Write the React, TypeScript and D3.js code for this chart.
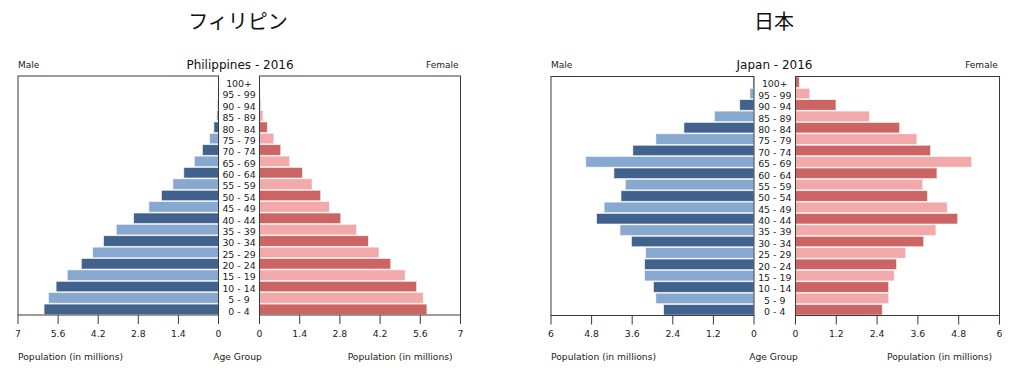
import React from "react";
import * as d3 from "d3";

const ageGroups = ["0 - 4","5 - 9","10 - 14","15 - 19","20 - 24","25 - 29","30 - 34","35 - 39","40 - 44","45 - 49","50 - 54","55 - 59","60 - 64","65 - 69","70 - 74","75 - 79","80 - 84","85 - 89","90 - 94","95 - 99","100+"];

const phMale = [6.09,5.93,5.67,5.28,4.79,4.39,4.01,3.57,2.96,2.43,1.99,1.59,1.21,0.84,0.56,0.31,0.16,0.06,0.03,0.015,0.005];
const phFemale = [5.83,5.70,5.47,5.07,4.57,4.16,3.79,3.38,2.83,2.43,2.13,1.83,1.49,1.05,0.74,0.50,0.27,0.12,0.04,0.02,0.01];
const phTicks = [0,1.4,2.8,4.2,5.6,7];

const jpMale = [2.67,2.90,2.97,3.23,3.23,3.20,3.62,3.96,4.65,4.43,3.93,3.80,4.14,4.97,3.58,2.90,2.07,1.17,0.42,0.12,0.03];
const jpFemale = [2.55,2.74,2.74,2.90,2.97,3.24,3.77,4.13,4.77,4.46,3.88,3.74,4.16,5.18,3.97,3.57,3.06,2.17,1.19,0.42,0.11];
const jpTicks = [0,1.2,2.4,3.6,4.8,6];

const FONT = "'DejaVu Sans', sans-serif";
const CJK = "'Noto Sans CJK JP', sans-serif";

type PyrProps = {
  title: string;
  bigTitle: string;
  male: number[];
  female: number[];
  ticks: number[];
  maxV: number;
  mL: number; mR: number; fL: number; fR: number;
  top: number; bottom: number;
  titleX: number; bigTitleX: number; femaleX: number; ageX: number; popRX: number;
};

function Pyramid(p: PyrProps) {
  const xm = d3.scaleLinear().domain([0, p.maxV]).range([p.mR, p.mL]);
  const xf = d3.scaleLinear().domain([0, p.maxV]).range([p.fL, p.fR]);
  const y = d3.scaleBand<string>().domain([...ageGroups].reverse()).range([p.top, p.bottom]).paddingInner(0.08).paddingOuter(0.04);
  const mid = (p.mR + p.fL) / 2;
  const frame = "#3a3a3a";
  return (
    <g>
      <text x={p.bigTitleX} y={29} textAnchor="middle" fontFamily={CJK} fontSize={20} fill="#111">{p.bigTitle}</text>
      <text x={p.mL} y={68} fontFamily={FONT} fontSize={9} fill="#222">Male</text>
      <text x={p.titleX} y={68.5} textAnchor="middle" fontFamily={FONT} fontSize={12} fill="#111">{p.title}</text>
      <text x={p.femaleX} y={68} textAnchor="end" fontFamily={FONT} fontSize={9} fill="#222">Female</text>
      {ageGroups.map((a, i) => (
        <g key={a}>
          <rect x={xm(p.male[i])} y={y(a)} width={p.mR - xm(p.male[i])} height={y.bandwidth()}
            fill={i % 2 === 0 ? "#41628c" : "#87a9d0"} stroke="#f4f4f4" strokeWidth={0.6} />
          <rect x={p.fL} y={y(a)} width={xf(p.female[i]) - p.fL} height={y.bandwidth()}
            fill={i % 2 === 0 ? "#cc6464" : "#f2a9a9"} stroke="#f4f4f4" strokeWidth={0.6} />
          <text x={mid} y={(y(a) as number) + y.bandwidth() / 2 + 2} dy="0.35em" textAnchor="middle"
            fontFamily={FONT} fontSize={9.4} fill="#222">{a}</text>
        </g>
      ))}
      <rect x={p.mL} y={p.top} width={p.mR - p.mL} height={p.bottom - p.top} fill="none" stroke={frame} strokeWidth={1} />
      <rect x={p.fL} y={p.top} width={p.fR - p.fL} height={p.bottom - p.top} fill="none" stroke={frame} strokeWidth={1} />
      {p.ticks.map((t) => (
        <g key={"m" + t}>
          <line x1={xm(t)} x2={xm(t)} y1={p.bottom} y2={p.bottom + 9} stroke={frame} strokeWidth={1} />
          <text x={xm(t)} y={336.5} textAnchor="middle" fontFamily={FONT} fontSize={9.3} fill="#222">{String(t)}</text>
        </g>
      ))}
      {p.ticks.map((t) => (
        <g key={"f" + t}>
          <line x1={xf(t)} x2={xf(t)} y1={p.bottom} y2={p.bottom + 9} stroke={frame} strokeWidth={1} />
          <text x={xf(t)} y={336.5} textAnchor="middle" fontFamily={FONT} fontSize={9.3} fill="#222">{String(t)}</text>
        </g>
      ))}
      <text x={p.mL} y={360} fontFamily={FONT} fontSize={9.2} fill="#222">Population (in millions)</text>
      <text x={p.ageX} y={360} textAnchor="middle" fontFamily={FONT} fontSize={9.2} fill="#222">Age Group</text>
      <text x={p.popRX} y={360} textAnchor="end" fontFamily={FONT} fontSize={9.2} fill="#222">Population (in millions)</text>
    </g>
  );
}

export default function App() {
  return (
    <svg width={1024} height={379} style={{ position: "absolute", left: 0, top: 0, background: "#fff" }}>
      <rect width={1024} height={379} fill="#fff" />
      <Pyramid title="Philippines - 2016" bigTitle="フィリピン" male={phMale} female={phFemale} ticks={phTicks} maxV={7}
        mL={18} mR={218.5} fL={259.5} fR={460.5} top={76} bottom={315}
        titleX={240} bigTitleX={238} femaleX={458.5} ageX={237.5} popRX={452.7} />
      <Pyramid title="Japan - 2016" bigTitle="日本" male={jpMale} female={jpFemale} ticks={jpTicks} maxV={6}
        mL={551} mR={754} fL={795.5} fR={999.5} top={76.5} bottom={315.5}
        titleX={774.5} bigTitleX={774} femaleX={997.7} ageX={773.5} popRX={992} />
    </svg>
  );
}
